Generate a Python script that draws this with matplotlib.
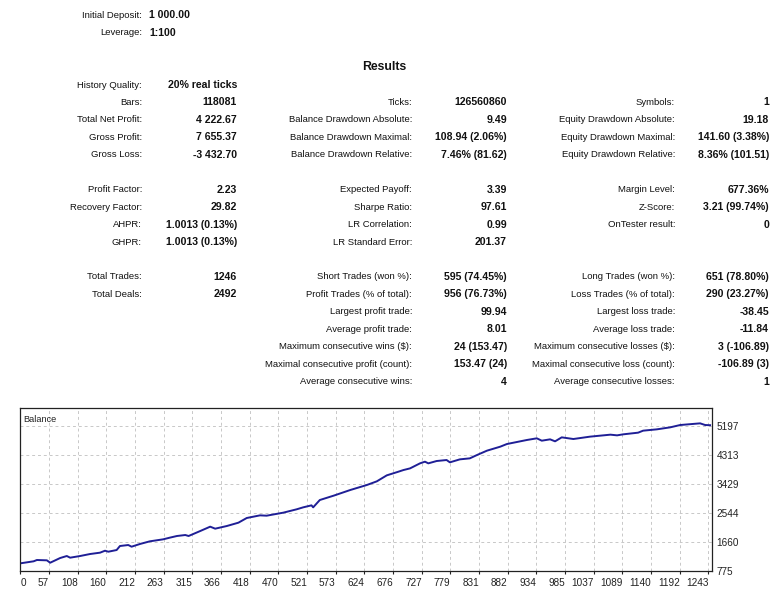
import matplotlib.pyplot as plt
import numpy as np

plt.rcParams["font.family"] = ["Liberation Sans", "DejaVu Sans"]

# ---- report data ----
header_labels = ["Initial Deposit:", "Leverage:"]
header_values = ["1 000.00", "1:100"]

col1_labels = ["History Quality:", "Bars:", "Total Net Profit:", "Gross Profit:", "Gross Loss:",
               None, "Profit Factor:", "Recovery Factor:", "AHPR:", "GHPR:",
               None, "Total Trades:", "Total Deals:"]
col1_values = ["20% real ticks", "118081", "4 222.67", "7 655.37", "-3 432.70",
               None, "2.23", "29.82", "1.0013 (0.13%)", "1.0013 (0.13%)",
               None, "1246", "2492"]

col2_labels = [None, "Ticks:", "Balance Drawdown Absolute:", "Balance Drawdown Maximal:",
               "Balance Drawdown Relative:", None, "Expected Payoff:", "Sharpe Ratio:",
               "LR Correlation:", "LR Standard Error:", None, "Short Trades (won %):",
               "Profit Trades (% of total):", "Largest profit trade:", "Average profit trade:",
               "Maximum consecutive wins ($):", "Maximal consecutive profit (count):",
               "Average consecutive wins:"]
col2_values = [None, "126560860", "9.49", "108.94 (2.06%)", "7.46% (81.62)", None,
               "3.39", "97.61", "0.99", "201.37", None, "595 (74.45%)", "956 (76.73%)",
               "99.94", "8.01", "24 (153.47)", "153.47 (24)", "4"]

col3_labels = [None, "Symbols:", "Equity Drawdown Absolute:", "Equity Drawdown Maximal:",
               "Equity Drawdown Relative:", None, "Margin Level:", "Z-Score:",
               "OnTester result:", None, None, "Long Trades (won %):",
               "Loss Trades (% of total):", "Largest loss trade:", "Average loss trade:",
               "Maximum consecutive losses ($):", "Maximal consecutive loss (count):",
               "Average consecutive losses:"]
col3_values = [None, "1", "19.18", "141.60 (3.38%)", "8.36% (101.51)", None,
               "677.36%", "3.21 (99.74%)", "0", None, None, "651 (78.80%)", "290 (23.27%)",
               "-38.45", "-11.84", "3 (-106.89)", "-106.89 (3)", "1"]

# balance curve (trade #, balance)
trade_no = [0, 24, 30, 48, 54, 72, 84, 90, 108, 126, 144, 153, 159, 174, 180, 195, 201, 216,
            234, 258, 270, 283, 298, 304, 325, 343, 352, 373, 394, 409, 433, 445, 475, 499,
            511, 526, 529, 541, 566, 596, 626, 644, 662, 683, 692, 704, 722, 731, 737, 752,
            770, 776, 794, 812, 825, 843, 867, 879, 891, 915, 933, 942, 957, 966, 978, 999,
            1029, 1066, 1078, 1089, 1116, 1125, 1150, 1174, 1192, 1228, 1237, 1246]
balance = [1000, 1062, 1102, 1092, 1019, 1163, 1224, 1173, 1224, 1285, 1326, 1386, 1356,
           1407, 1530, 1560, 1509, 1591, 1673, 1734, 1785, 1836, 1866, 1836, 1988, 2121,
           2060, 2141, 2243, 2386, 2467, 2457, 2549, 2651, 2712, 2773, 2712, 2936, 3069,
           3242, 3395, 3507, 3690, 3802, 3852, 3903, 4057, 4108, 4057, 4128, 4159, 4088,
           4179, 4210, 4312, 4445, 4567, 4648, 4689, 4771, 4822, 4750, 4791, 4730, 4852,
           4801, 4873, 4934, 4913, 4944, 4995, 5056, 5097, 5158, 5229, 5280, 5229, 5223]

x_tick_labels = ["0", "57", "108", "160", "212", "263", "315", "366", "418", "470", "521",
                 "573", "624", "676", "727", "779", "831", "882", "934", "985", "1037",
                 "1089", "1140", "1192", "1243"]
y_ticks = [775, 1660, 2544, 3429, 4313, 5197]

W, H = 781, 600
fig = plt.figure(figsize=(W / 100, H / 100), dpi=100)
fig.patch.set_facecolor("white")

LBL = 6.8
VAL = 7.6


def put(x, y, s, ha="right", bold=False, size=None):
    fig.text(x / W, 1 - y / H, s, ha=ha, va="center",
             fontsize=size or (VAL if bold else LBL),
             fontweight="bold" if bold else "normal", color="#111111")


for i, (lab, val) in enumerate(zip(header_labels, header_values)):
    y = 15 + i * 17.5
    put(142, y, lab)
    put(149, y, val, ha="left", bold=True)

put(384, 67, "Results", ha="center", bold=True, size=8.8)

step = 17.45
for i, (lab, val) in enumerate(zip(col1_labels, col1_values)):
    if lab is None:
        continue
    y = 85 + i * step
    put(142, y, lab)
    put(237, y, val, bold=True)

for cols, lx, vx in [((col2_labels, col2_values), 412, 507),
                     ((col3_labels, col3_values), 675, 769)]:
    for i, (lab, val) in enumerate(zip(*cols)):
        if lab is None:
            continue
        y = 85 + i * step
        put(lx, y, lab)
        put(vx, y, val, bold=True)

# ---- balance graph ----
left, right, top, bottom = 20.3, 712.3, 408.3, 570.7
ax = fig.add_axes([left / W, 1 - bottom / H, (right - left) / W, (bottom - top) / H])
ax.plot(trade_no, balance, color="#1f1f96", lw=1.4, solid_joinstyle="round")

x_ticks = np.linspace(0, 1243, len(x_tick_labels))
ax.set_xlim(0, 1250)
ax.set_ylim(775, 5740)
ax.set_xticks(x_ticks)
ax.set_xticklabels(x_tick_labels, fontsize=7.2)
for t, lab in zip(ax.get_xticklabels(), x_tick_labels):
    t.set_ha("left" if lab == "0" else "right")
ax.set_yticks(y_ticks)
ax.set_yticklabels([str(v) for v in y_ticks], fontsize=7.2)
ax.yaxis.tick_right()
ax.tick_params(axis="x", length=2, pad=3, colors="#222222")
ax.tick_params(axis="y", length=0, pad=3, colors="#222222")
ax.grid(True, color="#c8c8c8", linestyle=(0, (3, 3)), linewidth=0.7)
for s in ax.spines.values():
    s.set_color("#222222")
    s.set_linewidth(0.9)
ax.text(0.004, 0.93, "Balance", transform=ax.transAxes, fontsize=6.6,
        va="center", ha="left", color="#222222")

fig.savefig("out.png", dpi=100)
